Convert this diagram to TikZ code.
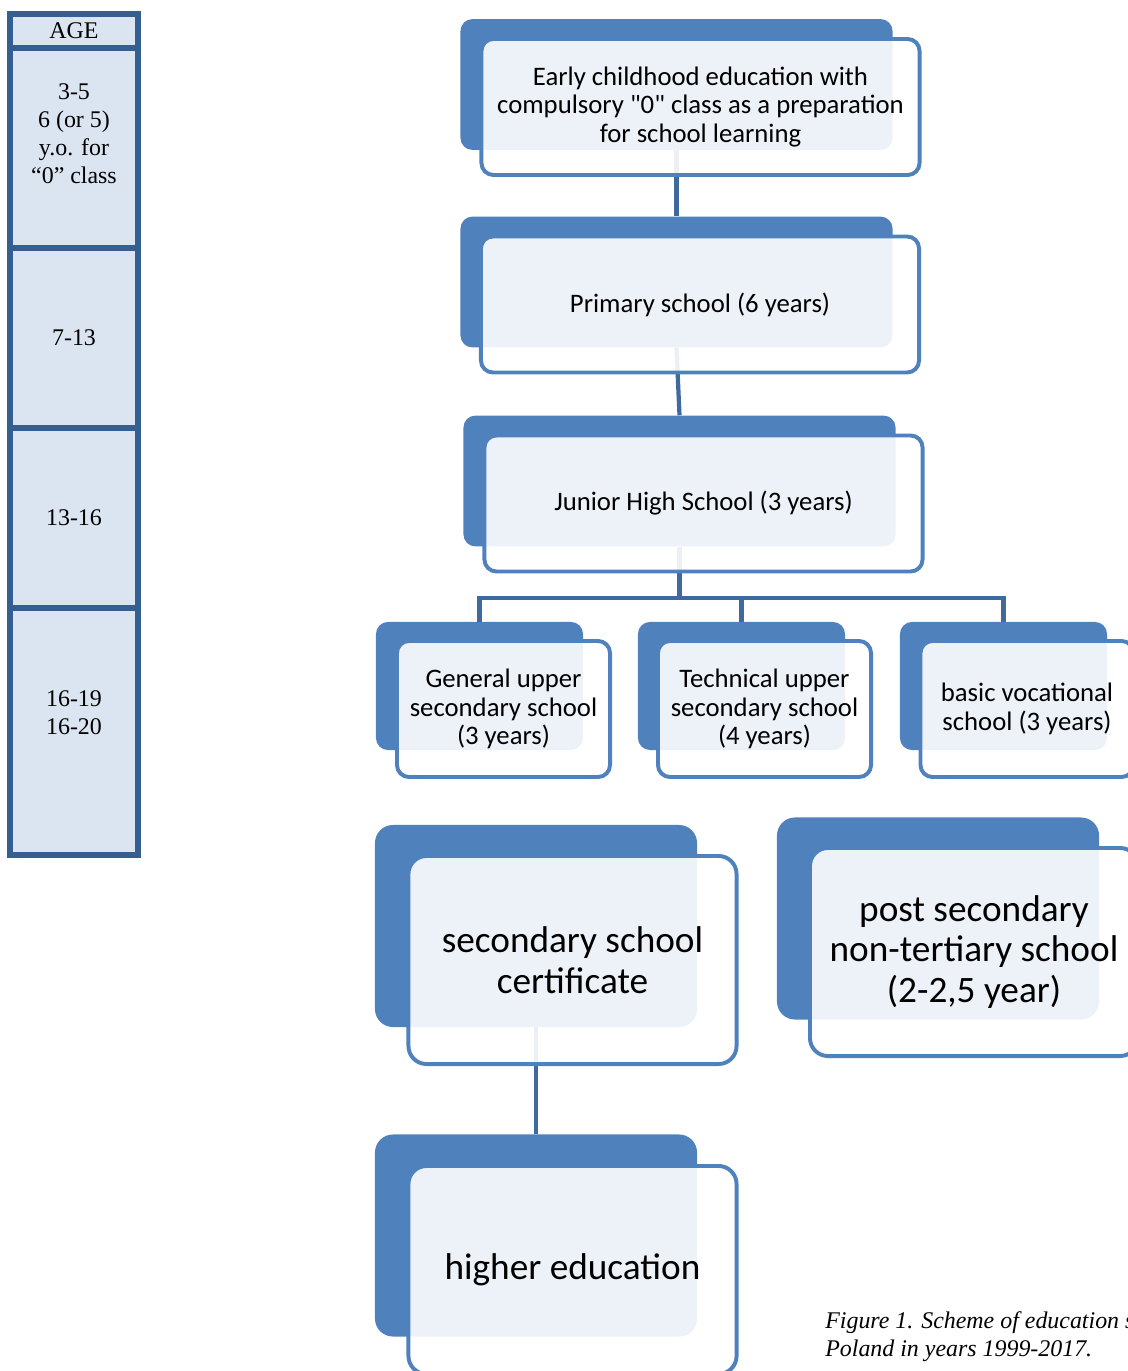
\documentclass[tikz,border=0pt]{standalone}
\usepackage{fontspec}
\setmainfont{Liberation Serif}
\newfontfamily\boxfont{Carlito}
\usetikzlibrary{backgrounds}
\definecolor{accent}{RGB}{79,129,189}
\definecolor{lineblue}{RGB}{64,106,158}
\definecolor{ageborder}{RGB}{54,95,145}
\definecolor{agefill}{RGB}{219,229,241}

\begin{document}
\begin{tikzpicture}
[x=0.025cm,y=-0.025cm,
back/.style={rectangle,rounded corners=0.3cm,fill=accent,minimum width=10.8cm,minimum height=3.27cm},
boxFrame/.style={rectangle,rounded corners=0.3cm,draw=accent,line width=2.8pt,fill=white,fill opacity=0.9,text opacity=1,minimum width=10.95cm,minimum height=3.4cm,align=center,inner sep=1pt,font=\boxfont\fontsize{19}{20.2}\selectfont},
smallBack/.style={back,minimum width=5.175cm,minimum height=3.2cm},
smallFrame/.style={boxFrame,minimum width=5.325cm,minimum height=3.4cm},
bigBack/.style={back,rounded corners=0.45cm,minimum width=8.05cm,minimum height=5.05cm},
bigFrame/.style={boxFrame,rounded corners=0.45cm,minimum width=8.2cm,minimum height=5.2cm,font=\boxfont\fontsize{26.5}{29}\selectfont},
edge/.style={line width=3pt,lineblue},
ageCell/.style={rectangle,draw=ageborder,fill=agefill,line width=4.2pt,minimum width=3.2cm},
ageLabel/.style={align=center,font=\fontsize{17}{19.8}\selectfont},
capText/.style={align=left,inner sep=0pt,font=\itshape\fontsize{17}{19.8}\selectfont},
]
\useasboundingbox (0,0) rectangle (1128,1371);
\clip (0,0) rectangle (1128,1371);
% age column
\node[ageCell,ageLabel,minimum height=0.85cm] (age) at (74 , 31) {AGE};
\node[ageCell,minimum height=5cm] (a1) at (74 , 148) {};
\node[ageCell,ageLabel,minimum height=4.5cm] (a2) at (74 , 338) {7-13};
\node[ageCell,ageLabel,minimum height=4.5cm] (a3) at (74 , 518) {13-16};
\node[ageCell,minimum height=6.175cm] (a4) at (74 , 731.5) {};
\node[ageLabel] (a1text) at (74 , 133.5) {3-5\\6 (or 5)\\y.o. for\\``0'' class};
\node[ageLabel] (a4text) at (74 , 713) {16-19\\16-20};
% school boxes
\node[back,] (early-back) at (676.5 , 84.5) {};
\node[boxFrame,] (early) at (700.5 , 107) {Early childhood education with\\compulsory "0" class as a preparation\\for school learning};
\node[back,] (primary-back) at (676.5 , 282) {};
\node[boxFrame,] (primary) at (700 , 304.5) {Primary school (6 years)};
\node[back,] (junior-back) at (679.5 , 481) {};
\node[boxFrame,] (junior) at (703.5 , 503.5) {Junior High School (3 years)};
\node[smallBack,] (general-back) at (479.5 , 686) {};
\node[smallFrame,] (general) at (503.5 , 709) {General upper\\secondary school\\(3 years)};
\node[smallBack,] (technical-back) at (741.5 , 686) {};
\node[smallFrame,] (technical) at (764.5 , 709) {Technical upper\\secondary school\\(4 years)};
\node[smallBack,] (vocational-back) at (1003.5 , 686) {};
\node[smallFrame,] (vocational) at (1027 , 709) {basic vocational\\school (3 years)};
\node[bigBack,] (cert-back) at (536 , 926) {};
\node[bigFrame,] (cert) at (572.5 , 960) {secondary school\\certificate};
\node[bigBack,] (post-back) at (938 , 918.5) {};
\node[bigFrame,] (post) at (974 , 952) {post secondary\\non-tertiary school\\(2-2,5 year)};
\node[bigBack,] (higher-back) at (536 , 1235.5) {};
\node[bigFrame,] (higher) at (572.5 , 1270) {higher education};
\coordinate (split) at (679.5 , 598);
\node[capText,anchor=west] (cap) at (825 , 1337) {Figure 1. Scheme of education system in\\Poland in years 1999-2017.};
% connectors
\begin{pgfonlayer}{background}
\draw[edge,](early-back.south) -- (primary-back.north) ;
\draw[edge,](primary-back.south) -- (junior-back.north) ;
\draw[edge,](junior-back.south) -- (split) ;
\draw[edge,](split) -| (general-back.north) ;
\draw[edge,](split) -| (technical-back.north) ;
\draw[edge,](split) -| (vocational-back.north) ;
\draw[edge,](cert-back.south) -- (higher-back.north) ;
\end{pgfonlayer}
\end{tikzpicture}
\end{document}
